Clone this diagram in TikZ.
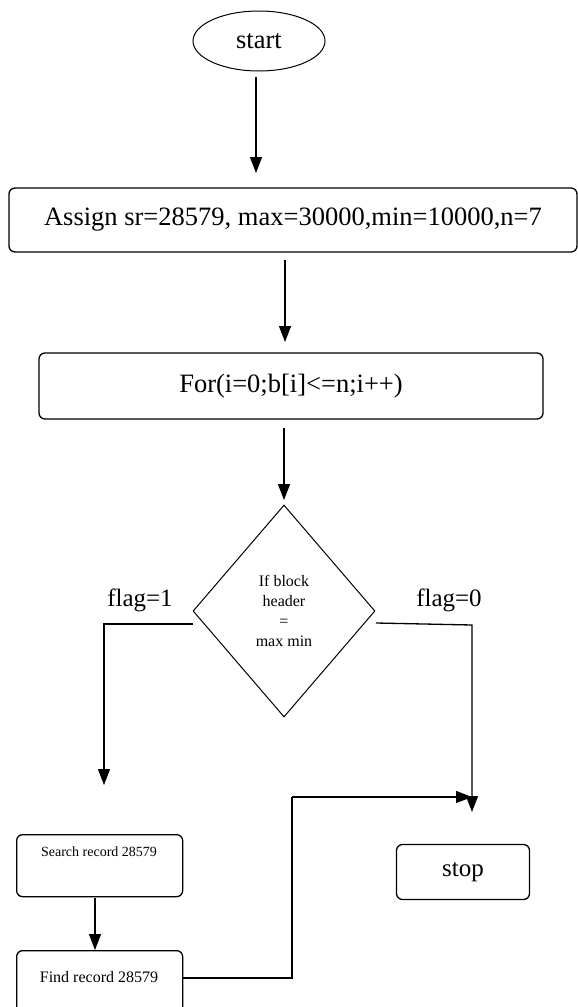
\documentclass[tikz,border=0pt]{standalone}
\usepackage{fontspec}
\setmainfont{Liberation Serif}
\usetikzlibrary{shapes.geometric,arrows.meta}
\begin{document}
\begin{tikzpicture}[x=1pt,y=-1pt,
  line width=1.3pt,
  box/.style={draw,rounded corners=6pt,inner sep=0pt},
  arr/.style={-{Triangle[length=16pt,width=12pt]}},
  big/.style={font=\fontsize{26.5}{30}\selectfont},
  flagtxt/.style={font=\fontsize{25}{28}\selectfont},
]
\useasboundingbox (0,0) rectangle (578,1007);
% terminals and process boxes
\node[draw,ellipse,minimum width=132pt,minimum height=60pt,inner sep=0pt,big,line width=1pt] (start) at (259,41) {start};
\node[box,minimum width=568pt,minimum height=64pt,big] (assign) at (293,220) {Assign sr=28579, max=30000,min=10000,n=7};
\node[box,minimum width=504pt,minimum height=66pt,big] (for) at (291,386) {For(i=0;b[i]<=n;i++)};
\node[draw,diamond,minimum width=182pt,minimum height=212pt,inner sep=0pt,line width=1pt,
      align=center,font=\fontsize{16}{20}\selectfont] (dec) at (284,611) {If block\\header\\=\\max min};
\node[box,minimum width=166pt,minimum height=62pt,anchor=north west] (search) at (16,834) {};
\node[font=\fontsize{14}{16}\selectfont] (searcht) at (99,852) {Search record 28579};
\node[box,minimum width=166pt,minimum height=70pt,anchor=north west] (find) at (16,950) {};
\node[font=\fontsize{16}{18}\selectfont] (findt) at (99,977) {Find record 28579};
\node[box,minimum width=133pt,minimum height=55pt,flagtxt] (stop) at (463,872) {stop};
% branch labels
\node[flagtxt] (f1) at (140,600) {flag=1};
\node[flagtxt] (f0) at (449,600) {flag=0};
% routing points
\coordinate (a1) at (256,77);
\coordinate (a1e) at (256,173);
\coordinate (a2) at (285,260);
\coordinate (a2e) at (285,342);
\coordinate (a3) at (284,428);
\coordinate (a3e) at (284,500);
\coordinate (l1) at (193,624);
\coordinate (l1c) at (104,624);
\coordinate (l1e) at (104,785);
\coordinate (r1) at (376,623);
\coordinate (r1c) at (472,625);
\coordinate (r1e) at (472,812);
\coordinate (s1) at (95,898);
\coordinate (s1e) at (95,950);
\coordinate (m1) at (292,978);
\coordinate (m2) at (292,797);
\coordinate (m3) at (472,797);
% connectors
\draw[arr] (a1) -- (a1e);
\draw[arr] (a2) -- (a2e);
\draw[arr] (a3) -- (a3e);
\draw[arr] (l1) -- (l1c) -- (l1e);
\draw[arr] (r1) -- (r1c) -- (r1e);
\draw[arr] (s1) -- (s1e);
\draw (find.east |- m1) -- (m1) -- (m2);
\draw[arr] (m2) -- (m3);
\end{tikzpicture}
\end{document}
